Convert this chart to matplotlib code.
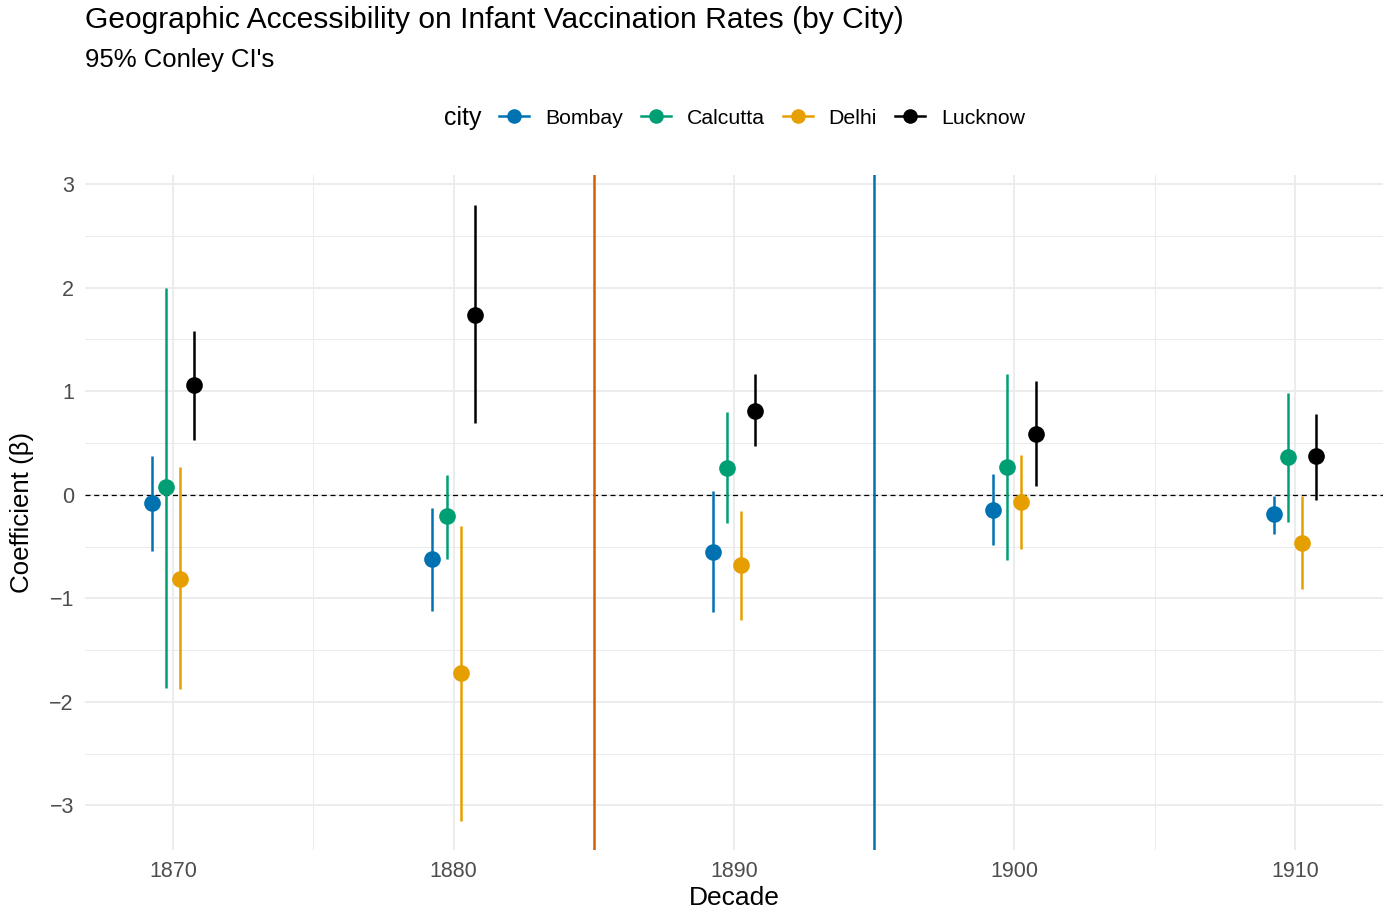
import matplotlib
matplotlib.use("Agg")
import matplotlib.pyplot as plt
from matplotlib.lines import Line2D
import numpy as np

plt.rcParams['font.family'] = ['Liberation Sans', 'DejaVu Sans']

decades = [1870, 1880, 1890, 1900, 1910]
cities = ["Bombay", "Calcutta", "Delhi", "Lucknow"]
colors = {"Bombay": "#0072B2", "Calcutta": "#009E73", "Delhi": "#E69F00", "Lucknow": "#000000"}

est_bombay = [-0.08, -0.62, -0.55, -0.15, -0.19]
lo_bombay = [-0.54, -1.12, -1.13, -0.49, -0.38]
hi_bombay = [0.37, -0.13, 0.04, 0.20, -0.01]

est_calcutta = [0.07, -0.21, 0.26, 0.27, 0.36]
lo_calcutta = [-1.87, -0.62, -0.27, -0.63, -0.26]
hi_calcutta = [2.00, 0.19, 0.80, 1.17, 0.98]

est_delhi = [-0.81, -1.72, -0.68, -0.07, -0.47]
lo_delhi = [-1.88, -3.15, -1.21, -0.52, -0.91]
hi_delhi = [0.27, -0.30, -0.16, 0.38, -0.01]

est_lucknow = [1.06, 1.74, 0.81, 0.59, 0.37]
lo_lucknow = [0.53, 0.69, 0.47, 0.08, -0.05]
hi_lucknow = [1.58, 2.80, 1.17, 1.10, 0.78]

est = {"Bombay": est_bombay, "Calcutta": est_calcutta, "Delhi": est_delhi, "Lucknow": est_lucknow}
lo = {"Bombay": lo_bombay, "Calcutta": lo_calcutta, "Delhi": lo_delhi, "Lucknow": lo_lucknow}
hi = {"Bombay": hi_bombay, "Calcutta": hi_calcutta, "Delhi": hi_delhi, "Lucknow": hi_lucknow}
offsets = [-0.75, -0.25, 0.25, 0.75]

vlines_x = [1885, 1895]
vlines_c = ["#D55E00", "#0072B2"]

fig = plt.figure(figsize=(13.9, 9.13), dpi=100)
ax = fig.add_axes([85/1390, 1-850/913, (1383-85)/1390, (850-175)/913])

ax.set_xlim(1866.86, 1913.14)
ax.set_ylim(-3.43, 3.087)
ax.set_xticks(decades)
ax.set_xticks([1875, 1885, 1895, 1905], minor=True)
ax.set_yticks([-3, -2, -1, 0, 1, 2, 3])
ax.set_yticks([-2.5, -1.5, -0.5, 0.5, 1.5, 2.5], minor=True)
ax.set_yticklabels(["\u22123", "\u22122", "\u22121", "0", "1", "2", "3"])
ax.grid(which='major', color='#EBEBEB', lw=1.3)
ax.grid(which='minor', color='#EBEBEB', lw=0.7)
ax.set_axisbelow(True)
for s in ax.spines.values():
    s.set_visible(False)
ax.tick_params(which='both', length=0)
ax.tick_params(axis='both', labelsize=15.5, labelcolor='#4D4D4D')
ax.tick_params(axis='x', pad=8)
ax.tick_params(axis='y', pad=8)

ax.axhline(0, color='black', lw=0.9, ls=(0, (4, 3)), zorder=1)
for x, c in zip(vlines_x, vlines_c):
    ax.axvline(x, color=c, lw=1.8, zorder=2)

for city, off in zip(cities, offsets):
    xs = np.array(decades) + off
    c = colors[city]
    ax.vlines(xs, lo[city], hi[city], color=c, lw=1.8, zorder=3)
    ax.plot(xs, est[city], 'o', color=c, markersize=12, zorder=4, markeredgewidth=0)

ax.set_xlabel("Decade", fontsize=19, va='center')
ax.set_ylabel("Coefficient (\u03b2)", fontsize=18.6, va='center')
ax.xaxis.set_label_coords((734-85)/1298, (850-898)/675)
ax.yaxis.set_label_coords((22-85)/1298, (850-512)/675)

fig.text(85/1390, 1-20/913, "Geographic Accessibility on Infant Vaccination Rates (by City)",
         fontsize=21.6, va='center', ha='left')
fig.text(85/1390, 1-60/913, "95% Conley CI's", fontsize=18.5, va='center', ha='left')

handles = [Line2D([], [], color=colors[c], marker='o', lw=1.8, markersize=10.5, markeredgewidth=0)
           for c in cities]
leg = fig.legend(handles, cities, loc='center left', bbox_to_anchor=(499/1390, 1-118/913),
                 ncol=4, frameon=False, fontsize=15.3, handlelength=1.41, handletextpad=0.75,
                 columnspacing=0.85, borderaxespad=0, borderpad=0)
fig.text(481/1390, 1-118/913, "city", fontsize=18, ha='right', va='center')

fig.savefig("out.png", dpi=100)
